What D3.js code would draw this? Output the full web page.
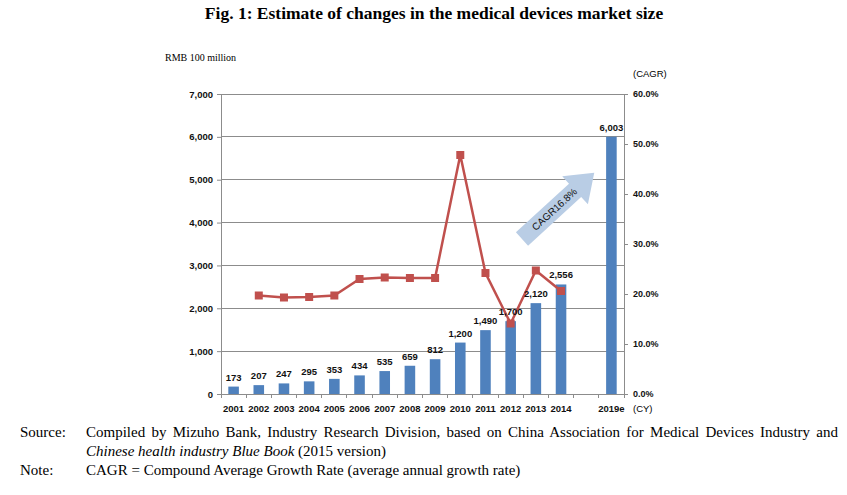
<!DOCTYPE html>
<html>
<head>
<meta charset="utf-8">
<script src="https://cdn.jsdelivr.net/npm/d3@7"></script>
<style>
  html, body { margin: 0; padding: 0; background: #fff; }
  svg { display: block; }
</style>
</head>
<body>
<svg id="chart" width="847" height="495"></svg>
<script>
// ---- Data ----
const categories = ["2001","2002","2003","2004","2005","2006","2007","2008","2009","2010","2011","2012","2013","2014","","2019e"];
const marketSize = [173, 207, 247, 295, 353, 434, 535, 659, 812, 1200, 1490, 1700, 2120, 2556, null, 6003];
const growthYears = ["2002","2003","2004","2005","2006","2007","2008","2009","2010","2011","2012","2013","2014"];
const growthRate = [19.7, 19.3, 19.4, 19.7, 23.0, 23.3, 23.2, 23.2, 47.8, 24.2, 14.1, 24.7, 20.6];
const leftTicks = [0, 1000, 2000, 3000, 4000, 5000, 6000, 7000];
const rightTicks = [0, 10, 20, 30, 40, 50, 60];
const cagrLabel = "CAGR16.8%";

// ---- Layout ----
const svg = d3.select("#chart");
const plot = { left: 221, right: 624, top: 94, bottom: 394 };

const x = d3.scaleBand().domain(categories.map((c, i) => i))
  .range([plot.left, plot.right]).paddingInner(0.58).paddingOuter(0.29);
const y = d3.scaleLinear().domain([0, 7000]).range([plot.bottom, plot.top]);
const y2 = d3.scaleLinear().domain([0, 60]).range([plot.bottom, plot.top]);
const cx = i => x(i) + x.bandwidth() / 2;

const sans = "'Liberation Sans', Arial, sans-serif";
const serif = "'Liberation Serif', 'Times New Roman', serif";
const grid = "#8c8c8c";

// Title
svg.append("text").attr("x", 434).attr("y", 19).attr("text-anchor", "middle")
  .attr("font-family", serif).attr("font-weight", "bold").attr("font-size", 17.5)
  .text("Fig. 1: Estimate of changes in the medical devices market size");

// Unit labels
svg.append("text").attr("x", 165).attr("y", 61).attr("font-family", serif)
  .attr("font-size", 10).text("RMB 100 million");
svg.append("text").attr("x", 633).attr("y", 77).attr("font-family", sans)
  .attr("font-size", 9.5).text("(CAGR)");
svg.append("text").attr("x", 633).attr("y", 412).attr("font-family", sans)
  .attr("font-size", 9.5).text("(CY)");

// Gridlines
svg.append("g").selectAll("line").data(leftTicks.filter(d => d > 0)).join("line")
  .attr("x1", plot.left).attr("x2", plot.right)
  .attr("y1", d => y(d)).attr("y2", d => y(d))
  .attr("stroke", grid).attr("stroke-width", 1).attr("shape-rendering", "crispEdges");

// Left axis
const gL = svg.append("g").attr("transform", `translate(${plot.left},0)`)
  .call(d3.axisLeft(y).tickValues(leftTicks).tickSize(4).tickPadding(4)
    .tickFormat(d3.format(",")));
gL.select(".domain").attr("stroke", grid);
gL.selectAll(".tick line").attr("stroke", grid);
gL.selectAll("text").attr("font-family", sans).attr("font-size", 9.5)
  .attr("font-weight", "bold").attr("fill", "#111");

// Right axis
const gR = svg.append("g").attr("transform", `translate(${plot.right},0)`)
  .call(d3.axisRight(y2).tickValues(rightTicks).tickSize(4).tickPadding(5)
    .tickFormat(d => d.toFixed(1) + "%"));
gR.select(".domain").attr("stroke", grid);
gR.selectAll(".tick line").attr("stroke", grid);
gR.selectAll("text").attr("font-family", sans).attr("font-size", 9)
  .attr("font-weight", "bold").attr("fill", "#111");

// Bottom axis (ticks at band boundaries)
const step = x.step();
const boundaries = d3.range(categories.length + 1).map(i => plot.left + i * step);
svg.append("line").attr("x1", plot.left).attr("x2", plot.right)
  .attr("y1", plot.bottom).attr("y2", plot.bottom)
  .attr("stroke", grid).attr("shape-rendering", "crispEdges");
svg.append("g").selectAll("line").data(boundaries).join("line")
  .attr("x1", d => d).attr("x2", d => d)
  .attr("y1", plot.bottom).attr("y2", plot.bottom + 4)
  .attr("stroke", grid).attr("shape-rendering", "crispEdges");
svg.append("g").selectAll("text").data(categories).join("text")
  .attr("x", (d, i) => cx(i)).attr("y", 412).attr("text-anchor", "middle")
  .attr("font-family", sans).attr("font-size", 9.5).attr("font-weight", "bold")
  .attr("fill", "#111").text(d => d);

// Bars
const barData = marketSize.map((v, i) => ({ i, v })).filter(d => d.v != null);
svg.append("g").selectAll("rect").data(barData).join("rect")
  .attr("x", d => x(d.i)).attr("width", x.bandwidth())
  .attr("y", d => y(d.v)).attr("height", d => plot.bottom - y(d.v))
  .attr("fill", "#4F81BD");

// Arrow (CAGR)
const arrow = svg.append("g").attr("transform", "translate(522,239) rotate(-42.5)");
arrow.append("path")
  .attr("d", "M0,-9 L72,-9 L72,-19 L98,0 L72,19 L72,9 L0,9 Z")
  .attr("fill", "#B9CDE5");
arrow.append("text").attr("x", 44).attr("y", 3.5).attr("text-anchor", "middle")
  .attr("font-family", sans).attr("font-size", 10).attr("fill", "#111")
  .text(cagrLabel);

// Line
const catIndex = c => categories.indexOf(c);
const lineData = growthYears.map((c, k) => ({ i: catIndex(c), v: growthRate[k] }));
svg.append("path").datum(lineData)
  .attr("d", d3.line().x(d => cx(d.i)).y(d => y2(d.v)))
  .attr("fill", "none").attr("stroke", "#C0504D").attr("stroke-width", 2.5);
svg.append("g").selectAll("rect").data(lineData).join("rect")
  .attr("x", d => cx(d.i) - 4).attr("y", d => y2(d.v) - 4)
  .attr("width", 8).attr("height", 8).attr("fill", "#C0504D");

// Bar labels
svg.append("g").selectAll("text").data(barData).join("text")
  .attr("x", d => cx(d.i)).attr("y", d => y(d.v) - 6).attr("text-anchor", "middle")
  .attr("font-family", sans).attr("font-size", 9.5).attr("font-weight", "bold")
  .attr("fill", "#111").text(d => d3.format(",")(d.v));

// Source & note
const fs = 15;
svg.append("text").attr("x", 20).attr("y", 437).attr("font-family", serif).attr("font-size", fs)
  .text("Source:");
const l1 = svg.append("text").attr("x", 86).attr("y", 437).attr("font-family", serif).attr("font-size", fs)
  .text("Compiled by Mizuho Bank, Industry Research Division, based on China Association for Medical Devices Industry and");
// justify the first line with word spacing
const natural = l1.node().getComputedTextLength();
const spaces = (l1.text().match(/ /g) || []).length;
l1.attr("word-spacing", ((752 - natural) / spaces).toFixed(2));
const l2 = svg.append("text").attr("x", 86).attr("y", 456).attr("font-family", serif).attr("font-size", fs);
l2.append("tspan").attr("font-style", "italic").text("Chinese health industry Blue Book");
l2.append("tspan").text(" (2015 version)");
svg.append("text").attr("x", 20).attr("y", 475).attr("font-family", serif).attr("font-size", fs)
  .text("Note:");
svg.append("text").attr("x", 86).attr("y", 475).attr("font-family", serif).attr("font-size", fs)
  .text("CAGR = Compound Average Growth Rate (average annual growth rate)");
</script>
</body>
</html>
